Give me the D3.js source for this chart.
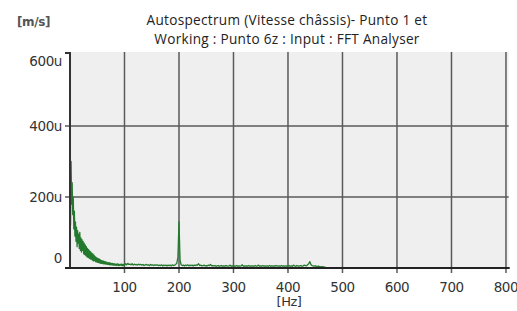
<!DOCTYPE html>
<html><head><meta charset="utf-8">
<script src="https://cdn.jsdelivr.net/npm/d3@7/dist/d3.min.js"></script>
<style>body{margin:0;background:#fff}svg{display:block}</style>
</head><body>
<svg id="c" width="517" height="311"></svg>
<script>
const titleLines = ["Autospectrum (Vitesse châssis)- Punto 1 et", "Working : Punto 6z : Input : FFT Analyser"];
const yUnit = "[m/s]";
const xUnit = "[Hz]";
const xTicks = [100, 200, 300, 400, 500, 600, 700, 800];
const yTicks = [0, 200, 400, 600];
const yTickLabels = ["0", "200u", "400u", "600u"];

// low band: 1 Hz bins from 1 Hz to 100 Hz (micro m/s)
const lowStart = 1, lowBin = 1;
const lowAmps = [
120,300,180,240,150,200,110,160,90,130,
75,115,60,105,70,95,55,100,50,85,
45,80,50,75,40,70,38,65,35,60,
32,55,30,52,28,48,26,45,25,42,
22,40,20,36,21,33,18,30,17,28,
16,26,15,25,14,23,13,21,13,20,
12,19,12,18,11,17,11,16,10,15,
10,15,9,14,9,13,9,13,8,12,
8,12,8,11,7,11,8,12,7,10,
7,10,8,11,7,10,6,10,7,9];
// high band: 2 Hz bins from 102 Hz to 470 Hz (micro m/s)
const highStart = 102, highBin = 2;
const highAmps = [
12,9,13,10,11,9,12,8,11,9,
10,8,11,9,10,8,10,7,9,10,
8,9,7,10,8,9,7,9,8,9,
7,8,7,9,6,8,7,8,6,8,
7,8,6,9,7,8,10,14,30,130,
22,9,7,8,6,8,7,9,6,8,
7,8,6,8,7,9,8,12,7,8,
6,7,8,6,7,6,8,7,10,6,
7,6,7,5,6,7,5,6,7,5,
6,5,7,6,5,6,8,5,6,5,
6,5,7,5,6,5,6,9,5,6,
5,6,5,7,5,6,5,6,5,7,
5,6,8,5,6,5,7,5,6,5,
6,5,7,5,6,5,6,5,7,6,
5,6,5,7,5,6,5,6,5,6,
7,5,6,5,8,6,5,7,6,5,
6,7,5,6,8,7,6,9,12,18,
10,7,6,5,6,5,4,5,4,3,
4,3,3,2,2];

const points = lowAmps.map((v, i) => [lowStart + i * lowBin, v])
  .concat(highAmps.map((v, i) => [highStart + i * highBin, v]));

const svg = d3.select("#c");
const L = 70, R = 508.7, T = 52, B = 268;
const x = d3.scaleLinear().domain([0, 805]).range([L, R]);
const y = d3.scaleLinear().domain([0, 608]).range([B, T]);

svg.append("rect").attr("x", L).attr("y", T).attr("width", R - L).attr("height", B - T).attr("fill", "#efefef");

// vertical grid
svg.append("g").selectAll("line").data(xTicks).join("line")
  .attr("x1", d => x(d)).attr("x2", d => x(d)).attr("y1", T).attr("y2", B + 5)
  .attr("stroke", "#5a5a5a").attr("stroke-width", 1.5);
// horizontal grid
svg.append("g").selectAll("line").data(yTicks.filter(d => d > 0 && d < 600)).join("line")
  .attr("x1", L - 5).attr("x2", R).attr("y1", d => y(d)).attr("y2", d => y(d))
  .attr("stroke", "#5a5a5a").attr("stroke-width", 1.5);

// spectrum
const line = d3.line().x(d => x(d[0])).y(d => y(d[1]));
svg.append("path").datum(points).attr("d", line).attr("fill", "none")
  .attr("stroke", "#237a2e").attr("stroke-width", 1.3).attr("stroke-linejoin", "round");

// axes
svg.append("line").attr("x1", L).attr("x2", L).attr("y1", T).attr("y2", B).attr("stroke", "#333").attr("stroke-width", 2);
svg.append("line").attr("x1", L - 5).attr("x2", L).attr("y1", T + 1).attr("y2", T + 1).attr("stroke", "#333").attr("stroke-width", 2);
svg.append("line").attr("x1", L - 5).attr("x2", R + 1).attr("y1", B).attr("y2", B).attr("stroke", "#222").attr("stroke-width", 2);

const tickFont = "DejaVu Sans, Verdana, sans-serif";
svg.append("g").selectAll("text").data(xTicks).join("text")
  .attr("x", d => x(d)).attr("y", 292).attr("text-anchor", "middle")
  .attr("font-family", tickFont).attr("font-size", 13.5).attr("fill", "#333")
  .attr("letter-spacing", -0.4).text(d => d);
svg.append("text").attr("x", x(400) + 1).attr("y", 306).attr("text-anchor", "middle")
  .attr("font-family", tickFont).attr("font-size", 13).attr("fill", "#333").attr("letter-spacing", -0.5).text(xUnit);

svg.append("g").selectAll("text").data(yTicks).join("text")
  .attr("x", 62).attr("y", d => Math.min(Math.max(y(d), 61), 258)).attr("dy", "0.36em")
  .attr("text-anchor", "end").attr("font-family", tickFont).attr("font-size", 13.5)
  .attr("fill", "#333").attr("letter-spacing", -0.4).text((d, i) => yTickLabels[i]);

svg.append("text").attr("x", 17).attr("y", 26).attr("font-family", tickFont).attr("font-size", 12)
  .attr("font-weight", "bold").attr("fill", "#555").attr("letter-spacing", -0.4).text(yUnit);

svg.append("g").selectAll("text").data(titleLines).join("text")
  .attr("x", 287).attr("y", (d, i) => 25 + i * 19).attr("text-anchor", "middle")
  .attr("font-family", "Open Sans, sans-serif").attr("font-size", 13.6).attr("letter-spacing", 0.3)
  .attr("fill", "#222").text(d => d);
</script>
</body></html>
